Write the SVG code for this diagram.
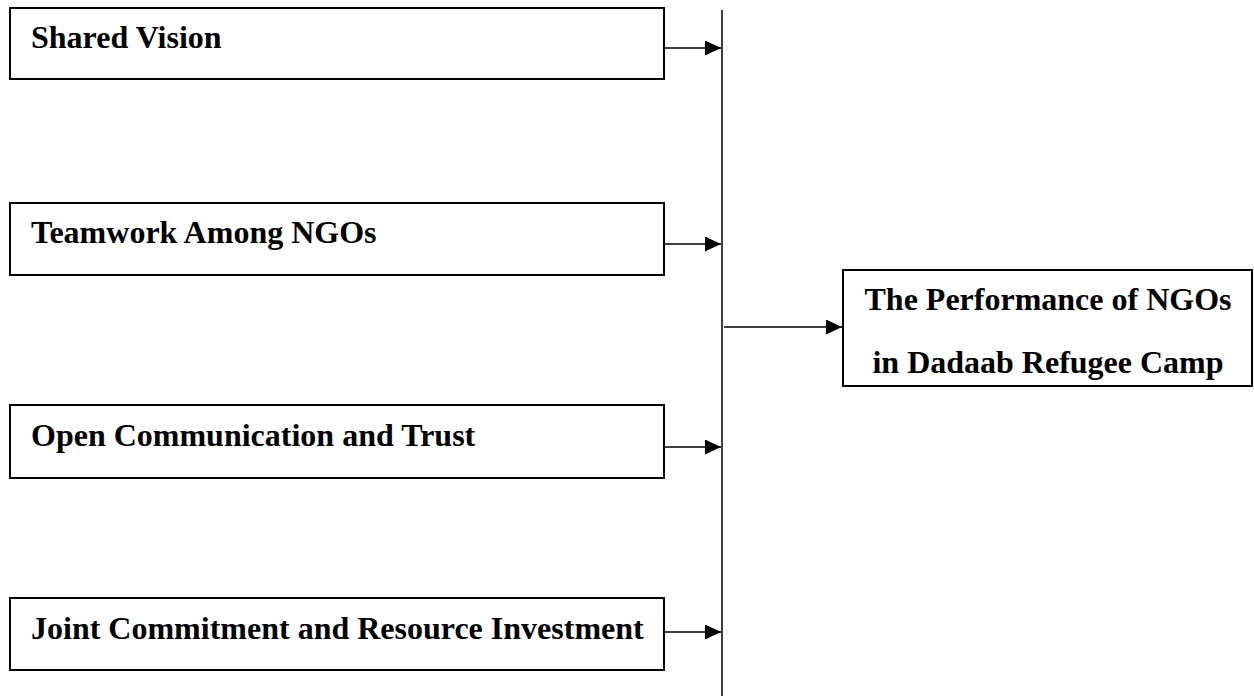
<svg xmlns="http://www.w3.org/2000/svg" width="1254" height="698" viewBox="0 0 1254 698">
<style>
.box{fill:#fff;stroke:#000;stroke-width:2}
.lbl{font-family:"Liberation Serif","Times New Roman",serif;font-weight:bold;font-size:32px;fill:#000}
.conn{stroke:#000;stroke-width:1.5;fill:none}
</style>
<defs>
<marker id="arr" markerWidth="16" markerHeight="15" refX="16" refY="7.5" orient="auto" markerUnits="userSpaceOnUse">
<path d="M0,0 L16,7.5 L0,15 Z" fill="#000"/>
</marker>
</defs>
<rect width="1254" height="698" fill="#fff"/>
<g id="n1"><rect class="box" x="10" y="8" width="654" height="71"/><text class="lbl" x="31" y="48">Shared Vision</text></g>
<g id="n2"><rect class="box" x="10" y="203" width="654" height="72"/><text class="lbl" x="31" y="243">Teamwork Among NGOs</text></g>
<g id="n3"><rect class="box" x="10" y="405" width="654" height="73"/><text class="lbl" x="31" y="446">Open Communication and Trust</text></g>
<g id="n4"><rect class="box" x="10" y="598" width="654" height="72"/><text class="lbl" x="31" y="639">Joint Commitment and Resource Investment</text></g>
<g id="n5"><rect class="box" x="843" y="270" width="409" height="116"/><text class="lbl" x="1048" y="310" text-anchor="middle">The Performance of NGOs</text><text class="lbl" x="1048" y="373" text-anchor="middle">in Dadaab Refugee Camp</text></g>
<g id="connectors">
<line class="conn" x1="722" y1="10" x2="722" y2="696"/>
<line class="conn" x1="664" y1="48" x2="721" y2="48" marker-end="url(#arr)"/>
<line class="conn" x1="664" y1="244" x2="721" y2="244" marker-end="url(#arr)"/>
<line class="conn" x1="664" y1="447" x2="721" y2="447" marker-end="url(#arr)"/>
<line class="conn" x1="664" y1="632" x2="721" y2="632" marker-end="url(#arr)"/>
<line class="conn" x1="724" y1="327" x2="842" y2="327" marker-end="url(#arr)"/>
</g>
</svg>
